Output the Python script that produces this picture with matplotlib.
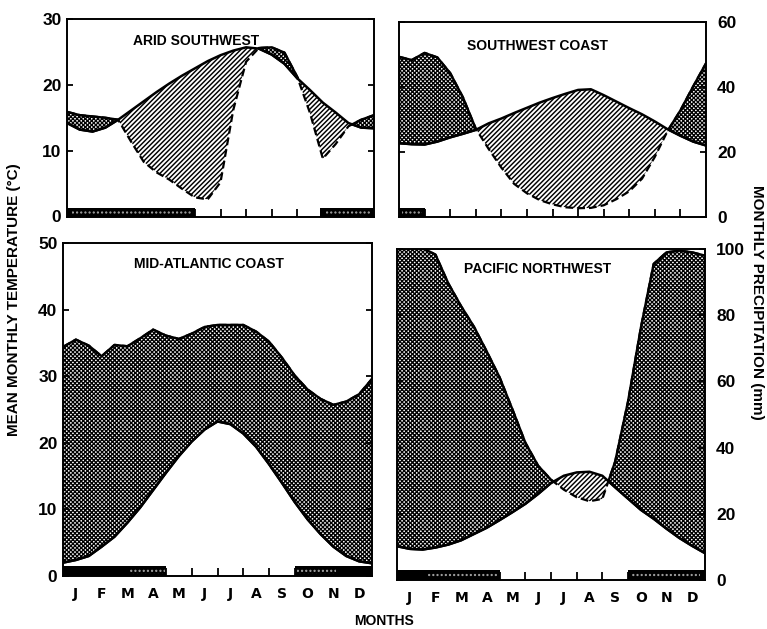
import numpy as np
import matplotlib
matplotlib.use("Agg")
import matplotlib.pyplot as plt
from matplotlib.patches import Rectangle
from matplotlib.font_manager import FontProperties

plt.rcParams['hatch.linewidth'] = 1.0

# ---------------- data ----------------
months = ['J', 'F', 'M', 'A', 'M', 'J', 'J', 'A', 'S', 'O', 'N', 'D']
# positions along the year (in months, 0 = start of Jan, 12 = end of Dec)
x_pos = [0, 0.5, 1, 1.5, 2, 2.5, 3, 3.5, 4, 4.5, 5, 5.5, 6,
         6.5, 7, 7.5, 8, 8.5, 9, 9.5, 10, 10.5, 11, 11.5, 12]

titles = ['ARID SOUTHWEST', 'SOUTHWEST COAST', 'MID-ATLANTIC COAST', 'PACIFIC NORTHWEST']

# mean monthly temperature (deg C)
temp_arid_sw = [14.2, 13.2, 12.9, 13.5, 14.7, 16.1, 17.5, 18.9, 20.2, 21.4, 22.5, 23.6, 24.5,
                25.2, 25.7, 25.5, 24.6, 23.2, 21.0, 19.2, 17.3, 15.8, 14.2, 13.5, 13.4]
temp_sw_coast = [11.35, 11.2, 11.15, 11.6, 12.25, 12.8, 13.4, 14.4, 15.15, 16.0, 16.8, 17.6, 18.3,
                 18.95, 19.55, 19.65, 18.75, 17.75, 16.75, 15.8, 14.7, 13.5, 12.5, 11.6, 11.0]
temp_mid_atl = [2.0, 2.4, 3.0, 4.4, 5.9, 8.0, 10.3, 12.9, 15.5, 18.0, 20.2, 22.0, 23.2,
                22.8, 21.4, 19.4, 16.8, 14.0, 11.1, 8.5, 6.3, 4.4, 3.0, 2.2, 1.9]
temp_pac_nw = [5.1, 4.7, 4.6, 4.9, 5.35, 6.0, 6.95, 7.9, 9.05, 10.25, 11.5, 13.0, 14.65,
               15.75, 16.25, 16.35, 15.75, 14.0, 12.3, 10.6, 9.25, 7.75, 6.35, 5.15, 4.05]

# monthly precipitation (mm)
prec_arid_sw = [31.8, 30.8, 30.4, 30.0, 29.4, 22.8, 16.6, 13.4, 11.2, 8.4, 5.8, 5.2, 10.4,
                32.4, 47.0, 51.2, 51.4, 49.8, 42.4, 31.4, 17.6, 22.0, 27.4, 29.4, 30.8]
prec_sw_coast = [49.3, 48.3, 50.5, 49.1, 44.3, 36.8, 27.2, 21.0, 15.2, 10.2, 7.3, 5.2, 3.9,
                 3.0, 2.7, 2.8, 3.6, 5.5, 7.9, 11.8, 18.5, 26.5, 32.8, 40.2, 47.3]
prec_mid_atl = [68.8, 71.0, 69.2, 66.0, 69.4, 69.0, 71.4, 74.0, 72.2, 71.2, 72.8, 74.8, 75.4,
                75.4, 75.4, 73.4, 70.4, 65.6, 60.2, 56.0, 53.2, 51.4, 52.4, 54.6, 59.2]
prec_pac_nw = [100.5, 100.5, 100.3, 98.3, 89.6, 82.7, 76.5, 69.0, 61.2, 51.5, 41.5, 34.5, 30.3,
               27.3, 25.0, 23.8, 24.5, 35.8, 53.9, 76.2, 95.5, 99.0, 99.5, 99.0, 98.0]

# frost periods (start, end month) and speckled parts of the bars
frost_arid_sw = [(0, 5.0), (9.9, 12)]
frost_sw_coast = [(0, 1.0)]
frost_mid_atl = [(0, 4.0), (9.0, 12)]
frost_pac_nw = [(0, 4.0), (9.0, 12)]
speck_arid_sw = [(0.2, 4.9), (10.1, 11.9)]
speck_sw_coast = [(0.1, 0.9)]
speck_mid_atl = [(2.6, 3.95), (9.1, 10.6)]
speck_pac_nw = [(1.2, 3.9), (9.1, 11.8)]

temp_ticks_top = [0, 10, 20, 30]
prec_ticks_top = [0, 20, 40, 60]
temp_ticks_bot = [0, 10, 20, 30, 40, 50]
prec_ticks_bot = [0, 20, 40, 60, 80, 100]

# ---------------- figure ----------------
W, H = 767, 629
fig = plt.figure(figsize=(W / 100, H / 100), dpi=100)


def px_axes(x0, y0, x1, y1):
    return fig.add_axes([x0 / W, 1 - y1 / H, (x1 - x0) / W, (y1 - y0) / H])


TICKFP = FontProperties(family='Liberation Sans', weight='bold', size=12.5)
LABFONT = dict(family='Liberation Sans', weight='bold')


def draw_panel(ax, temp, prec, frost, speck, side, ticks, title, title_xy, bottom_row, bar_h):
    x = np.array(x_pos)
    temp = np.array(temp)
    prec = np.array(prec)
    if side == 'left':
        t, p = temp, prec / 2.0
    else:
        t, p = temp * 2.0, prec
    ax.set_xlim(0, 12)
    ax.set_ylim(ticks[0], ticks[-1])

    humid = ax.fill_between(x, t, p, where=p >= t, interpolate=True, facecolor='white',
                            edgecolor='black', hatch='xxxxxxxx', linewidth=1.7, zorder=1)
    arid = ax.fill_between(x, t, p, where=p < t, interpolate=True, facecolor='white',
                           edgecolor='black', hatch='///////', linewidth=0, zorder=1)
    if hasattr(humid, 'set_hatch_linewidth'):
        humid.set_hatch_linewidth(0.95)
        arid.set_hatch_linewidth(1.05)
    ax.plot(x, p, color='black', lw=1.6, ls=(0, (3.5, 1.8)), zorder=3, solid_capstyle='round')
    ax.plot(x, t, color='black', lw=1.8, zorder=3, solid_capstyle='round')

    trans = ax.get_xaxis_transform()
    for s, e in frost:
        ax.add_patch(Rectangle((s, 0), e - s, bar_h, transform=trans, facecolor='black',
                               edgecolor='none', zorder=4))
    for s, e in speck:
        ax.add_patch(Rectangle((s, bar_h * 0.2), e - s, bar_h * 0.55, transform=trans,
                               facecolor='none', edgecolor='#a8a8a8', hatch='....',
                               linewidth=0, zorder=5))

    for sp in ax.spines.values():
        sp.set_linewidth(1.4)
    ax.set_yticks(ticks)
    ax.tick_params(axis='y', which='major', direction='in', length=4, width=1.3,
                   left=True, right=True, labelleft=(side == 'left'),
                   labelright=(side == 'right'))
    ax.tick_params(axis='y', pad=4 if side == 'left' else 8)
    for lab in ax.get_yticklabels():
        lab.set_fontproperties(TICKFP)

    ax.set_xticks([m + 0.5 for m in range(12)])
    ax.set_xticks(list(range(1, 12)), minor=True)
    ax.tick_params(axis='x', which='minor', direction='in', length=6, width=1.3,
                   bottom=True, top=False)
    if bottom_row:
        ax.set_xticklabels(months, fontdict=dict(family='DejaVu Sans', weight='bold', size=10))
        ax.tick_params(axis='x', which='major', length=0, pad=8)
    else:
        ax.set_xticklabels([])
        ax.tick_params(axis='x', which='major', length=0)

    fig.text(title_xy[0] / W, 1 - title_xy[1] / H, title, ha='center', va='center',
             fontsize=10, **LABFONT)


ax1 = px_axes(67, 19, 374, 216.5)
ax2 = px_axes(399, 22, 706, 217)
ax3 = px_axes(63, 243, 372, 576)
ax4 = px_axes(397, 249, 705, 580)

draw_panel(ax1, temp_arid_sw, prec_arid_sw, frost_arid_sw, speck_arid_sw, 'left',
           temp_ticks_top, titles[0], (196, 41), False, 0.045)
draw_panel(ax2, temp_sw_coast, prec_sw_coast, frost_sw_coast, speck_sw_coast, 'right',
           prec_ticks_top, titles[1], (537, 46), False, 0.045)
draw_panel(ax3, temp_mid_atl, prec_mid_atl, frost_mid_atl, speck_mid_atl, 'left',
           temp_ticks_bot, titles[2], (209, 264), True, 0.03)
draw_panel(ax4, temp_pac_nw, prec_pac_nw, frost_pac_nw, speck_pac_nw, 'right',
           prec_ticks_bot, titles[3], (538, 269), True, 0.03)

fig.text(14 / W, 1 - 300 / H, 'MEAN MONTHLY TEMPERATURE (°C)', rotation=90, ha='center',
         va='center', fontsize=11, **LABFONT)
fig.text(757 / W, 1 - 302 / H, 'MONTHLY PRECIPITATION (mm)', rotation=270, ha='center',
         va='center', fontsize=11, **LABFONT)
fig.text(384 / W, 1 - 621 / H, 'MONTHS', ha='center', va='center', fontsize=10, **LABFONT)

fig.savefig('out.png', dpi=100, facecolor='white')
